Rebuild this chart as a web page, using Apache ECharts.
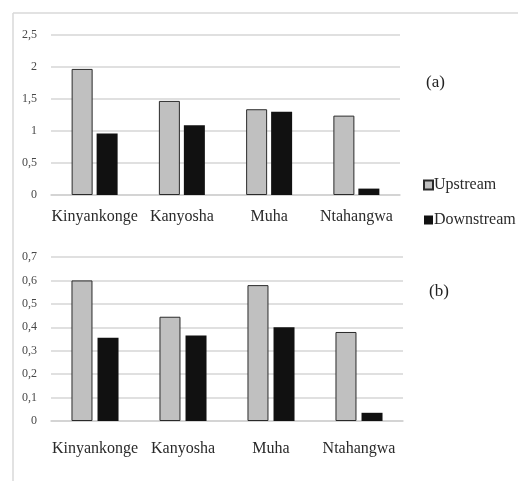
<!DOCTYPE html>
<html>
<head>
<meta charset="utf-8">
<script src="https://cdn.jsdelivr.net/npm/echarts@6/dist/echarts.min.js"></script>
<style>
  html, body { margin: 0; padding: 0; background: #fff; }
  #chart { width: 518px; height: 481px; }
</style>
</head>
<body>
<div id="chart"></div>
<script>
// Sampling sites along each river
const sites = ['Kinyankonge', 'Kanyosha', 'Muha', 'Ntahangwa'];

// Panel (a)
const upstreamA = [1.97, 1.47, 1.34, 1.24];
const downstreamA = [0.96, 1.09, 1.30, 0.10];
const ticksA = { min: 0, max: 2.5, step: 0.5 };

// Panel (b)
const upstreamB = [0.60, 0.445, 0.58, 0.38];
const downstreamB = [0.355, 0.365, 0.40, 0.035];
const ticksB = { min: 0, max: 0.7, step: 0.1 };

const serif = '"Liberation Serif", "DejaVu Serif", serif';
const commaFmt = v => String(Math.round(v * 10) / 10).replace('.', ',');

const chart = echarts.init(document.getElementById('chart'));

function xAxisFor(gridIndex, margin) {
  return {
    type: 'category', gridIndex, data: sites,
    axisLine: { show: true, lineStyle: { color: '#d0d0d0', width: 1.5 } },
    axisTick: { show: false },
    axisLabel: { fontFamily: serif, fontSize: 16, color: '#2a2a2a', margin, interval: 0 }
  };
}
function yAxisFor(gridIndex, t) {
  return {
    type: 'value', gridIndex, min: t.min, max: t.max, interval: t.step,
    axisLine: { show: false }, axisTick: { show: false },
    axisLabel: { fontFamily: serif, fontSize: 12, color: '#484848', margin: 14, formatter: commaFmt },
    splitLine: { lineStyle: { color: '#d6d6d6', width: 1.5 } }
  };
}
const upStyle = { color: '#c0c0c0', borderColor: '#2a2a2a', borderWidth: 1 };
const downStyle = { color: '#111111' };

chart.setOption({
  animation: false,
  backgroundColor: '#fff',
  grid: [
    { left: 51, width: 349, top: 35, height: 160 },
    { left: 51, width: 352, top: 257, height: 164 }
  ],
  xAxis: [xAxisFor(0, 14), xAxisFor(1, 20)],
  yAxis: [yAxisFor(0, ticksA), yAxisFor(1, ticksB)],
  legend: {
    orient: 'vertical', left: 418, top: 172, itemWidth: 9, itemHeight: 9, itemGap: 19,
    icon: 'rect',
    textStyle: { fontFamily: serif, fontSize: 16, color: '#2a2a2a', padding: [0, 0, 0, -4] },
    data: ['Upstream', 'Downstream']
  },
  series: [
    { name: 'Upstream', type: 'bar', xAxisIndex: 0, yAxisIndex: 0, data: upstreamA,
      barWidth: 21, barGap: '19%', itemStyle: upStyle },
    { name: 'Downstream', type: 'bar', xAxisIndex: 0, yAxisIndex: 0, data: downstreamA,
      barWidth: 21, barGap: '19%', itemStyle: downStyle },
    { name: 'Upstream', type: 'bar', xAxisIndex: 1, yAxisIndex: 1, data: upstreamB,
      barWidth: 21, barGap: '24%', itemStyle: upStyle },
    { name: 'Downstream', type: 'bar', xAxisIndex: 1, yAxisIndex: 1, data: downstreamB,
      barWidth: 21, barGap: '24%', itemStyle: downStyle }
  ],
  graphic: [
    { type: 'line', shape: { x1: 13, y1: 13, x2: 518, y2: 13 }, style: { stroke: '#d9d9d9', lineWidth: 1.5 } },
    { type: 'line', shape: { x1: 13, y1: 13, x2: 13, y2: 481 }, style: { stroke: '#d9d9d9', lineWidth: 1.5 } },
    { type: 'text', left: 426, top: 74, style: { text: '(a)', font: '17px ' + serif, fill: '#222' } },
    { type: 'text', left: 429, top: 283, style: { text: '(b)', font: '17px ' + serif, fill: '#222' } }
  ]
});
</script>
</body>
</html>
